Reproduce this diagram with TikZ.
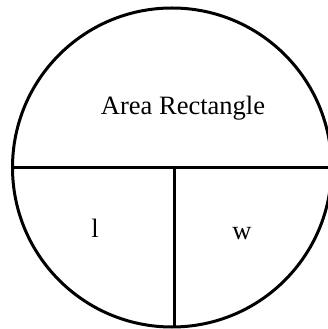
\documentclass[tikz,border=0pt]{standalone}
\usepackage{fontspec}
\setmainfont{Liberation Serif}
\usetikzlibrary{positioning,calc}

\begin{document}
\begin{tikzpicture}[
  x=1pt, y=1pt,
  whole/.style={circle, draw, line width=3pt, minimum size=319pt, inner sep=0pt, outer sep=0pt},
  divider/.style={line width=3pt},
  lbl/.style={font=\fontsize{26.5}{30}\selectfont, inner sep=0pt, anchor=base}
]
  \useasboundingbox (0,0) rectangle (328,329);
  \clip (0,0) rectangle (328,329);
  % Outer circle
  \node[whole] (area) at (172,161.5) {};
  % Dividers
  \coordinate (mid) at ($(area.center)+(2,0)$);
  \draw[divider] (area.west) -- (area.east);
  \draw[divider] (mid) -- (mid |- area.south);
  % Labels
  \node[lbl] (title) at (183,214) {Area Rectangle};
  \node[lbl] (len) at (95,91) {l};
  \node[lbl] (wid) at (242,89) {w};
\end{tikzpicture}
\end{document}
